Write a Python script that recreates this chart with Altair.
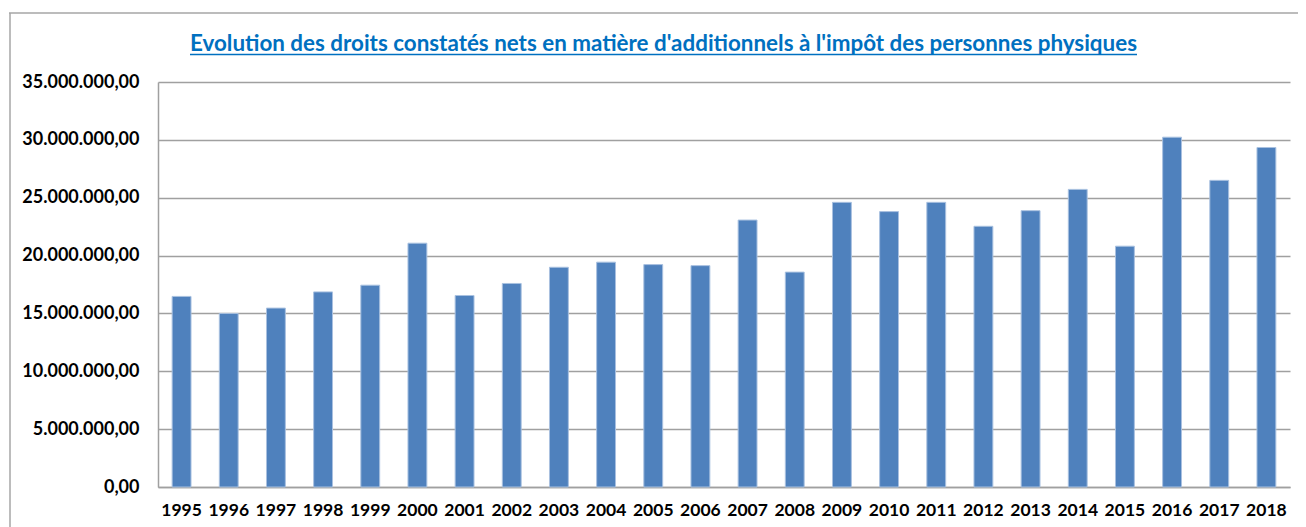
import altair as alt
import pandas as pd

years = [str(y) for y in range(1995, 2019)]
values = [16.47, 15.0, 15.46, 16.86, 17.44, 21.07, 16.55, 17.59, 18.99, 19.43,
          19.22, 19.13, 23.07, 18.57, 24.6, 23.8, 24.6, 22.53, 23.88, 25.72,
          20.81, 30.23, 26.5, 29.34]
values = [v * 1_000_000 for v in values]
title_text = "Evolution des droits constatés nets en matière d'additionnels à l'impôt des personnes physiques"

df = pd.DataFrame({"year": years, "value": values})

W, H = 1132, 405
FONT = "Lato"

bars = alt.Chart(df).mark_bar(color="#4F81BD", stroke="#A9C1E0", strokeWidth=1).encode(
    x=alt.X("year:N", sort=years, title=None,
            scale=alt.Scale(paddingInner=0.6, paddingOuter=0.3),
            axis=alt.Axis(labelAngle=0, labelFont=FONT, labelFontWeight="bold",
                          labelFontSize=17.5, labelColor="#000000", labelPadding=14,
                          ticks=False, domainColor="#A0A0A0", domainWidth=1.5)),
    y=alt.Y("value:Q", title=None,
            scale=alt.Scale(domain=[0, 35_000_000]),
            axis=alt.Axis(values=[i * 5_000_000 for i in range(8)], format=",.2f",
                          labelFont=FONT, labelFontWeight="bold", labelFontSize=18,
                          labelColor="#000000", labelPadding=19, ticks=False,
                          gridColor="#A0A0A0", gridWidth=1.5,
                          domainColor="#A0A0A0", domainWidth=1.5)),
)

# title underline
underline = alt.Chart(pd.DataFrame({"a": [0]})).mark_rule(color="#0070C0", strokeWidth=1.5).encode(
    x=alt.value(32), x2=alt.value(979), y=alt.value(-27.5))

title = alt.Chart(pd.DataFrame({"t": [title_text]})).mark_text(
    font=FONT, fontSize=22.4, fontWeight="bold", color="#0070C0", align="center", baseline="alphabetic"
).encode(text="t:N", x=alt.value(505.5), y=alt.value(-31))

# outer chart frame
frame_top = alt.Chart(pd.DataFrame({"a": [0]})).mark_rule(color="#A6A6A6", strokeWidth=1.5).encode(
    x=alt.value(-149), x2=alt.value(1150), y=alt.value(-69))
frame_left = alt.Chart(pd.DataFrame({"a": [0]})).mark_rule(color="#A6A6A6", strokeWidth=1.5).encode(
    x=alt.value(-148), y=alt.value(-69), y2=alt.value(446))

chart = alt.layer(bars, title, underline, frame_top, frame_left).properties(
    width=W, height=H,
    autosize=alt.AutoSizeParams(type="none"),
    padding={"left": 150, "top": 74, "right": 8, "bottom": 40},
).configure(
    locale={"number": {"decimal": ",", "thousands": ".", "grouping": [3], "currency": ["", " €"]}}
).configure_view(stroke=None)

chart.save("out.html", embed_options={"renderer": "svg", "actions": False})
